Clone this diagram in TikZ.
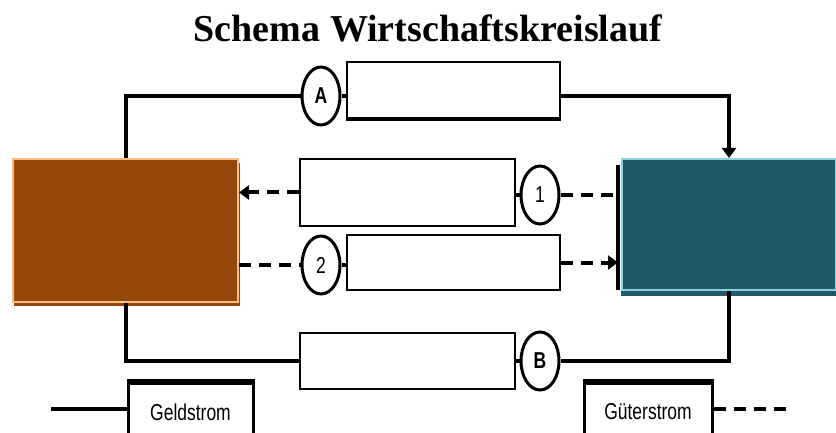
\documentclass[tikz,border=0pt]{standalone}
\usepackage{fontspec}
\setmainfont{Liberation Serif}
\newfontfamily\schmal[FakeStretch=0.76]{Liberation Sans}
\usepackage{xcolor}
\usepackage{tikz}
\usetikzlibrary{arrows.meta, positioning, shapes}
\definecolor{braun}{HTML}{95480A}
\definecolor{orangehell}{HTML}{F9BC85}
\definecolor{petrol}{HTML}{225867}
\definecolor{hellblau}{HTML}{8ECFDF}

\begin{document}
\begin{tikzpicture}[x=0.5pt, y=-0.5pt,
    geld/.style={line width=2pt},
    gueter/.style={line width=2pt, dash pattern=on 6pt off 4pt},
    spitze/.style={-{Triangle[length=5pt, width=7pt]}},
    feld/.style={draw, line width=0.75pt, inner sep=0pt},
    marke/.style={ellipse, draw, line width=1.5pt, fill=white, inner sep=0pt, minimum width=19pt, minimum height=29pt, font=\schmal\fontsize{11.5}{12}\selectfont},
    legende/.style={draw, line width=1.5pt, inner sep=0pt, minimum height=29pt, font=\schmal\fontsize{11.5}{12}\selectfont}]
    \useasboundingbox (0,0) rectangle (836,433);

    \node[font=\bfseries\fontsize{19}{22}\selectfont, anchor=base] (titel) at (428,42) {Schema Wirtschaftskreislauf};

    % Sektoren
    \fill[braun] (14,163) rectangle (240,306);
    \node[fill=braun, draw=orangehell, line width=1pt, inner sep=0pt, minimum width=112.5pt, minimum height=71.5pt] (haushalte) at (125.5,230.5) {};
    \fill[petrol] (621,164) rectangle (840,296);
    \node[fill=petrol, draw=hellblau, line width=1pt, inner sep=0pt, minimum width=107pt, minimum height=65.5pt] (unternehmen) at (729,224.5) {};
    \coordinate (balkenO) at (618,165);
    \coordinate (balkenU) at (618,290);
    \draw[geld] (balkenO) -- (balkenU);

    % Felder und Marken
    \node[feld, minimum width=106.5pt, minimum height=28pt] (feldA) at (453.5,90) {};
    \node[feld, minimum width=107.5pt, minimum height=33.5pt] (feld1) at (407.5,192.5) {};
    \node[feld, minimum width=106.5pt, minimum height=27.5pt] (feld2) at (453.5,262.5) {};
    \node[feld, minimum width=107.5pt, minimum height=28pt] (feldB) at (407.5,361) {};
    \node[marke] (markeA) at (321,96) {\textbf{A}};
    \node[marke] (marke1) at (540,195) {1};
    \node[marke] (marke2) at (321,265) {2};
    \node[marke] (markeB) at (540,361) {\textbf{B}};

    % Geldstrom
    \draw[geld] (haushalte.north) |- (markeA.west);
    \draw[geld] (markeA.east) -- (markeA.east -| feldA.west);
    \draw[geld] (feldA.south west) -- (feldA.south east);
    \draw[geld, spitze] (feldA.east |- markeA) -| (unternehmen.north);
    \draw[geld] (haushalte.south) |- (feldB.west);
    \draw[geld] (feldB.east) -- (markeB.west);
    \draw[geld] (markeB.east) -| (unternehmen.south);

    % Gueterstrom
    \draw[gueter, spitze] (feld1.west) -- (feld1.west -| haushalte.east);
    \draw[geld] (feld1.east |- marke1) -- (marke1.west);
    \draw[gueter] (marke1.east) -- (marke1.east -| balkenO);
    \draw[gueter] (haushalte.east |- marke2) -- (marke2.west);
    \draw[geld] (marke2.east) -- (marke2.east -| feld2.west);
    \draw[gueter, spitze] (feld2.east) -- (feld2.east -| balkenO);

    % Legende
    \node[legende, minimum width=62.5pt] (geldstrom) at (190.5,412) {Geldstrom};
    \draw[line width=2.5pt] (geldstrom.north west) -- (geldstrom.north east);
    \coordinate (geldanfang) at (51,409);
    \draw[geld] (geldanfang) -- (geldanfang -| geldstrom.west);
    \node[legende, minimum width=64pt] (gueterstrom) at (648,412) {Güterstrom};
    \draw[line width=2.5pt] (gueterstrom.north west) -- (gueterstrom.north east);
    \coordinate (gueterende) at (789,409);
    \draw[gueter] (gueterstrom.east |- gueterende) -- (gueterende);
\end{tikzpicture}
\end{document}
